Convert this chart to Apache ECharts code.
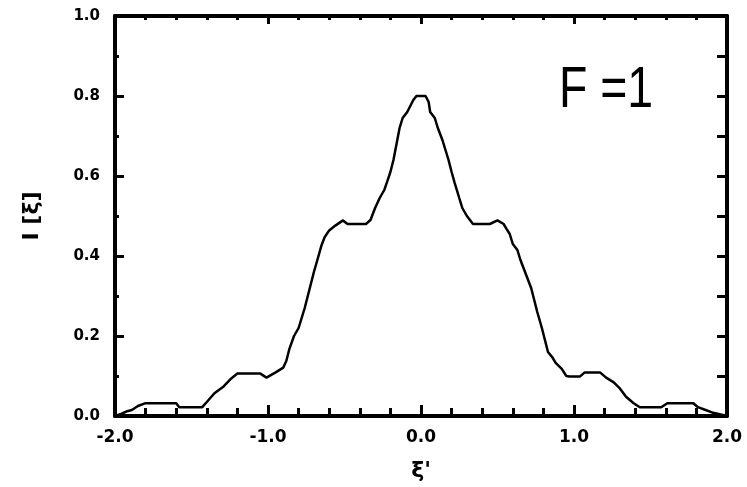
<!DOCTYPE html>
<html>
<head>
<meta charset="utf-8">
<script src="https://cdn.jsdelivr.net/npm/echarts@6/dist/echarts.min.js"></script>
<style>
html,body{margin:0;padding:0;background:#fff;}
#chart{width:747px;height:487px;}
</style>
</head>
<body>
<div id="chart"></div>
<script>
// ---- data ----
const xValues = [-2.00,-1.96,-1.92,-1.89,-1.85,-1.80,-1.60,-1.58,-1.43,-1.40,-1.35,-1.29,-1.24,-1.20,-1.05,-1.01,-0.95,-0.90,-0.88,-0.86,-0.83,-0.80,-0.78,-0.76,-0.74,-0.72,-0.70,-0.67,-0.65,-0.63,-0.60,-0.56,-0.51,-0.48,-0.36,-0.33,-0.30,-0.27,-0.24,-0.22,-0.20,-0.18,-0.16,-0.14,-0.12,-0.09,-0.07,-0.05,-0.03,
  0.03,0.05,0.06,0.09,0.11,0.14,0.16,0.18,0.20,0.22,0.25,0.27,0.30,0.34,0.45,0.50,0.54,0.56,0.58,0.60,0.63,0.65,0.67,0.69,0.72,0.74,0.76,0.79,0.81,0.83,0.86,0.88,0.92,0.95,0.97,1.04,1.07,1.17,1.21,1.26,1.30,1.34,1.39,1.43,1.57,1.61,1.78,1.81,1.86,1.91,2.00];
const intensity = [0.000,0.005,0.012,0.015,0.025,0.032,0.032,0.022,0.022,0.035,0.057,0.074,0.094,0.106,0.106,0.096,0.109,0.121,0.138,0.168,0.200,0.220,0.245,0.270,0.300,0.330,0.360,0.400,0.427,0.447,0.464,0.476,0.489,0.480,0.480,0.490,0.520,0.545,0.565,0.587,0.610,0.640,0.680,0.720,0.745,0.760,0.775,0.790,0.800,
  0.800,0.785,0.760,0.745,0.720,0.690,0.665,0.640,0.610,0.583,0.545,0.520,0.500,0.480,0.480,0.489,0.480,0.467,0.455,0.430,0.415,0.390,0.370,0.350,0.320,0.290,0.260,0.220,0.190,0.160,0.146,0.133,0.118,0.100,0.099,0.099,0.109,0.109,0.096,0.084,0.069,0.048,0.032,0.022,0.022,0.032,0.032,0.022,0.015,0.008,0.000];
const xTickValues = [-2, -1, 0, 1, 2];
const xTickLabels = ['-2.0', '-1.0', '0.0', '1.0', '2.0'];
const yTickValues = [0, 0.2, 0.4, 0.6, 0.8, 1.0];
const yTickLabels = ['0.0', '0.2', '0.4', '0.6', '0.8', '1.0'];
const xAxisName = "ξ'";
const yAxisName = 'I [ξ]';
const annotation = 'F =1';

const points = xValues.map((x, i) => [x, intensity[i]]);
function lab(values, labels) {
  return v => { const i = values.findIndex(t => Math.abs(t - v) < 1e-6); return i >= 0 ? labels[i] : ''; };
}
const BLACK = '#000';
const axisLine = { show: true, onZero: false, lineStyle: { color: BLACK, width: 4 } };

const chart = echarts.init(document.getElementById('chart'), null, { renderer: 'canvas' });
chart.setOption({
  animation: false,
  backgroundColor: '#fff',
  grid: { left: 115, right: 20, top: 16, bottom: 66, containLabel: false },
  xAxis: [
    {
      type: 'value', min: -2, max: 2, interval: 1, position: 'bottom',
      axisLine: axisLine,
      axisTick: { show: true, inside: true, length: 11, lineStyle: { color: BLACK, width: 3 } },
      minorTick: { show: true, splitNumber: 5, length: 8, lineStyle: { color: BLACK, width: 3 } },
      splitLine: { show: false },
      axisLabel: { formatter: lab(xTickValues, xTickLabels), color: BLACK, fontFamily: 'DejaVu Sans', fontWeight: 'bold', fontSize: 17, margin: 13 },
      name: xAxisName, nameLocation: 'middle', nameGap: 44,
      nameTextStyle: { color: BLACK, fontFamily: 'DejaVu Sans', fontWeight: 'bold', fontSize: 22 }
    },
    {
      type: 'value', min: -2, max: 2, interval: 1, position: 'top',
      axisLine: axisLine,
      axisTick: { show: true, inside: true, length: 8, lineStyle: { color: BLACK, width: 3 } },
      minorTick: { show: true, splitNumber: 5, length: 4, lineStyle: { color: BLACK, width: 3 } },
      splitLine: { show: false },
      axisLabel: { show: false }
    }
  ],
  yAxis: [
    {
      type: 'value', min: 0, max: 1, interval: 0.2, position: 'left',
      axisLine: axisLine,
      axisTick: { show: true, inside: true, length: 9, lineStyle: { color: BLACK, width: 3 } },
      minorTick: { show: true, splitNumber: 2, length: 4, lineStyle: { color: BLACK, width: 3 } },
      splitLine: { show: false },
      axisLabel: { formatter: lab(yTickValues, yTickLabels), color: BLACK, fontFamily: 'DejaVu Sans', fontWeight: 'bold', fontSize: 15, margin: 15 },
      name: yAxisName, nameLocation: 'middle', nameGap: 72, nameRotate: 90,
      nameTextStyle: { color: BLACK, fontFamily: 'DejaVu Sans', fontWeight: 'bold', fontSize: 22 }
    },
    {
      type: 'value', min: 0, max: 1, interval: 0.1, position: 'right',
      axisLine: axisLine,
      axisTick: { show: true, inside: true, length: 10, lineStyle: { color: BLACK, width: 3 } },
      splitLine: { show: false },
      axisLabel: { show: false }
    }
  ],
  graphic: [
    {
      type: 'text', x: 559, y: 62, scaleX: 0.8, scaleY: 1, silent: true,
      style: { text: annotation, fill: BLACK, font: 'normal 58px "Liberation Sans"', align: 'left', verticalAlign: 'top' }
    }
  ],
  series: [
    {
      type: 'line', xAxisIndex: 0, yAxisIndex: 0, data: points,
      showSymbol: false, symbol: 'none', smooth: false,
      lineStyle: { color: BLACK, width: 2.5 }
    }
  ]
});
</script>
</body>
</html>
